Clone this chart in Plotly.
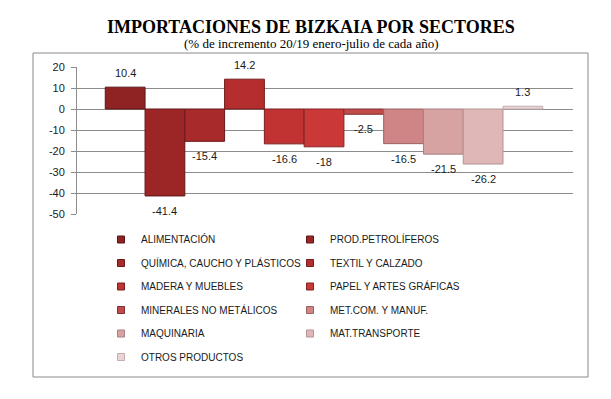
import plotly.graph_objects as go

# ---- data ----
sectors = [
    "ALIMENTACIÓN", "PROD.PETROLÍFEROS", "QUÍMICA, CAUCHO Y PLÁSTICOS",
    "TEXTIL Y CALZADO", "MADERA Y MUEBLES", "PAPEL Y ARTES GRÁFICAS",
    "MINERALES NO METÁLICOS", "MET.COM. Y MANUF.", "MAQUINARIA",
    "MAT.TRANSPORTE", "OTROS PRODUCTOS",
]
values = [10.4, -41.4, -15.4, 14.2, -16.6, -18, -2.5, -16.5, -21.5, -26.2, 1.3]
y_ticks = [20, 10, 0, -10, -20, -30, -40, -50]
title_text = "IMPORTACIONES DE BIZKAIA POR SECTORES"
subtitle_text = "(% de incremento 20/19 enero-julio de cada año)"

# ---- styles ----
colors = ["#8f2323", "#9c2626", "#a82a2a", "#b52e2e", "#c13333", "#cb3838",
          "#c24a4a", "#cf8585", "#d7a2a2", "#dfb7b7", "#ead5d5"]
edge = ["#5a1414", "#621616", "#6a1919", "#721c1c", "#7a1f1f", "#822323",
        "#7c3030", "#9a6262", "#a88080", "#b39494", "#c2aeae"]

OFF = 8  # page body margin of the html page
W, H = 611 - OFF, 399 - OFF
ML, MT = 77 - OFF, 67 - OFF
PW, PH = 496, 147
MR = W - ML - PW
MB = H - MT - PH


def px_x(p):
    return (p - OFF - ML) / PW


def px_y(p):
    return (MT + PH - (p - OFF)) / PH


fig = go.Figure()

for i, (s, v) in enumerate(zip(sectors, values)):
    fig.add_trace(go.Bar(
        x=[i], y=[v], width=1, name=s,
        marker=dict(color=colors[i], line=dict(color=edge[i], width=1)),
        showlegend=False, hoverinfo="skip",
    ))

for i, s in enumerate(sectors):
    fig.add_trace(go.Scatter(
        x=[None], y=[None], mode="markers", name=s, legendgroup=s,
        legend="legend" if i % 2 == 0 else "legend2",
        marker=dict(symbol="square", size=7, color=colors[i],
                    line=dict(color=edge[i], width=1)),
    ))

annotations = []
for i, v in enumerate(values):
    annotations.append(dict(
        x=i, y=v, xref="x", yref="y", text=f"{v:g}", showarrow=False,
        yshift=14 if v >= 0 else -15,
        font=dict(family="Liberation Sans, Arial, sans-serif", size=11, color="#1a1a1a"),
    ))

annotations.append(dict(
    x=px_x(310.5), y=px_y(26.5), xref="paper", yref="paper", text=f"<b>{title_text}</b>",
    showarrow=False, xanchor="center", yanchor="middle",
    font=dict(family="Liberation Serif, Times New Roman, serif", size=18, color="#000000"),
))
annotations.append(dict(
    x=px_x(310.5), y=px_y(43.5), xref="paper", yref="paper", text=subtitle_text,
    showarrow=False, xanchor="center", yanchor="middle",
    font=dict(family="Liberation Serif, Times New Roman, serif", size=13, color="#000000"),
))

legend_font = dict(family="Liberation Sans, Arial, sans-serif", size=10, color="#1a1a1a")

fig.update_layout(
    width=W, height=H,
    margin=dict(l=ML, r=MR, t=MT, b=MB),
    paper_bgcolor="white", plot_bgcolor="white",
    barmode="overlay",
    xaxis=dict(range=[-1.211, 11.26], showticklabels=False, showgrid=False,
               zeroline=False, showline=False, fixedrange=True),
    yaxis=dict(range=[-50, 20], tickvals=y_ticks, ticktext=[str(t) for t in y_ticks],
               showgrid=True, gridcolor="#8c8c8c", gridwidth=1,
               zeroline=True, zerolinecolor="#8c8c8c", zerolinewidth=1,
               showline=True, linecolor="#8c8c8c", linewidth=1,
               ticks="outside", ticklen=5, tickcolor="#8c8c8c", ticklabelstandoff=4,
               tickfont=dict(family="Liberation Sans, Arial, sans-serif", size=11, color="#1a1a1a")),
    legend=dict(x=px_x(101), y=px_y(225), xanchor="left", yanchor="top",
                font=legend_font, tracegroupgap=4.5, traceorder="grouped",
                bgcolor="rgba(0,0,0,0)", borderwidth=0),
    legend2=dict(x=px_x(290), y=px_y(225), xanchor="left", yanchor="top",
                 font=legend_font, tracegroupgap=4.5, traceorder="grouped",
                 bgcolor="rgba(0,0,0,0)", borderwidth=0),
    annotations=annotations,
    shapes=[dict(type="rect", xref="paper", yref="paper",
                 x0=px_x(33), x1=px_x(588), y0=px_y(377), y1=px_y(53),
                 line=dict(color="#8a8a8a", width=1), layer="below")],
    showlegend=True,
)

fig.write_html("out.html")
